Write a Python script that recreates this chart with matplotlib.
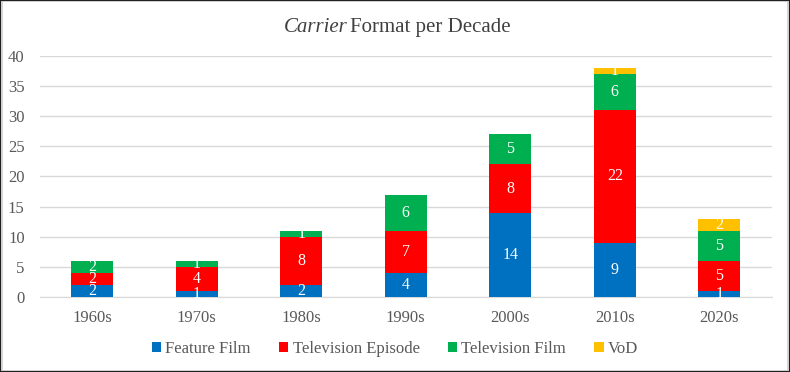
import numpy as np
import matplotlib.pyplot as plt
from matplotlib.patches import Rectangle

decades = ['1960s', '1970s', '1980s', '1990s', '2000s', '2010s', '2020s']
feature_film = [2, 1, 2, 4, 14, 9, 1]
tv_episode = [2, 4, 8, 7, 8, 22, 5]
tv_film = [2, 1, 1, 6, 5, 6, 5]
vod = [0, 0, 0, 0, 0, 1, 2]

series = [('Feature Film', feature_film, '#0070C0'),
          ('Television Episode', tv_episode, '#FF0000'),
          ('Television Film', tv_film, '#00B050'),
          ('VoD', vod, '#FFC000')]

plt.rcParams['font.family'] = ['Liberation Serif', 'DejaVu Serif']

fig = plt.figure(figsize=(7.9, 3.72), dpi=100)
ax = fig.add_axes([0.0506, 0.2016, 0.926, 0.648])

x = np.arange(len(decades))
bottom = np.zeros(len(decades))
for name, vals, color in series:
    vals = np.array(vals, dtype=float)
    ax.bar(x, vals, 0.4, bottom=bottom, color=color, label=name, zorder=3)
    for xi, b, v in zip(x, bottom, vals):
        if v > 0:
            ax.text(xi, b + v / 2, '%d' % v, ha='center', va='center',
                    color='white', fontsize=11.5, zorder=4)
    bottom += vals

ax.set_xlim(-0.5, len(decades) - 0.5)
ax.set_ylim(0, 40)
ax.set_yticks(range(0, 41, 5))
ax.set_xticks(x)
ax.set_xticklabels(decades)
ax.yaxis.grid(True, color='#D9D9D9', linewidth=1, zorder=0)
for s in ax.spines.values():
    s.set_visible(False)
ax.spines['bottom'].set_visible(True)
ax.spines['bottom'].set_color('#D9D9D9')
ax.tick_params(axis='both', length=0, labelsize=12, colors='#595959')
ax.tick_params(axis='x', pad=9)
ax.tick_params(axis='y', pad=11)

# title: "Carrier" in italics, rest upright
fig.text(0.44, 0.927, 'Carrier', ha='right', va='center', fontsize=15,
         style='italic', color='#404040')
fig.text(0.443, 0.927, 'Format per Decade', ha='left', va='center', fontsize=15,
         color='#404040')

leg = fig.legend(loc='center', bbox_to_anchor=(0.5, 0.062), ncol=4, frameon=False,
                 fontsize=12, handlelength=0.55, handleheight=0.55, handletextpad=0.25,
                 columnspacing=1.7)
for t in leg.get_texts():
    t.set_color('#595959')

fig.patches.append(Rectangle((0.003, 0.004), 0.994, 0.992, transform=fig.transFigure,
                             fill=False, edgecolor='#D0D0D0', linewidth=1.2))
fig.patches.append(Rectangle((0, 0), 1, 1, transform=fig.transFigure,
                             fill=False, edgecolor='#202020', linewidth=1.5))

fig.savefig('out.png', dpi=100)
